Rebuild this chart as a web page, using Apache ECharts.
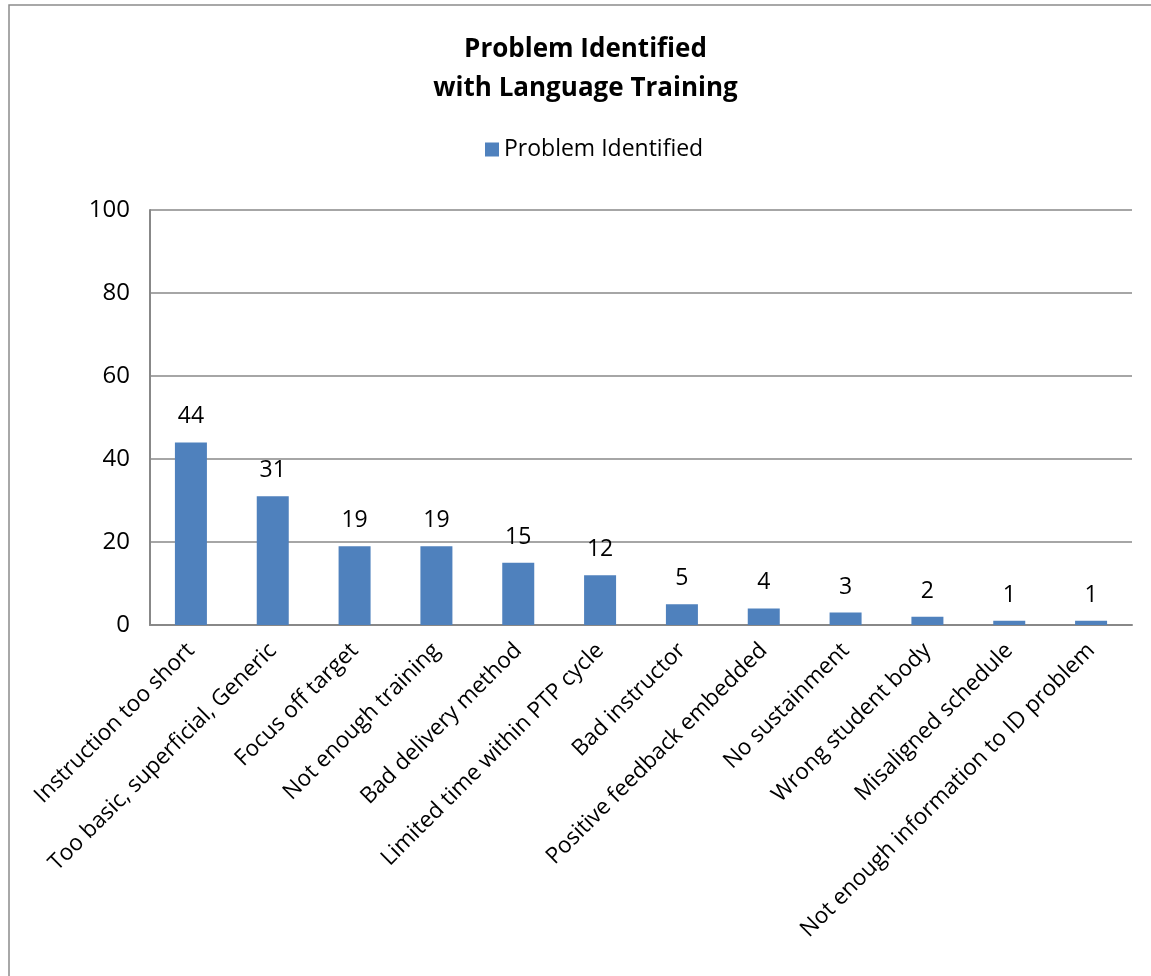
<!DOCTYPE html>
<html><head><meta charset="utf-8">
<script src="https://cdn.jsdelivr.net/npm/echarts@6/dist/echarts.min.js"></script>
<style>html,body{margin:0;padding:0;background:#fff;overflow:hidden;}#c{width:1171px;height:976px;}</style>
</head><body><div id="c"></div>
<script>
const categories = ["Instruction too short","Too basic, superficial, Generic","Focus off target","Not enough training","Bad delivery method","Limited time within PTP cycle","Bad instructor","Positive feedback embedded","No sustainment","Wrong student body","Misaligned schedule","Not enough information to ID problem"];
const values = [44,31,19,19,15,12,5,4,3,2,1,1];
const seriesName = "Problem Identified";
const titleText = "Problem Identified\nwith Language Training";
const yTicks = {min:0,max:100,interval:20};
const font = "'Open Sans', sans-serif";
const chart = echarts.init(document.getElementById('c'));
chart.setOption({
  animation:false,
  graphic:[{type:'rect',shape:{x:9,y:5,width:1200,height:1100},style:{fill:'none',stroke:'#8c8c8c',lineWidth:1.5},silent:true}],
  title:{text:titleText,left:'center',top:25,textStyle:{fontFamily:font,fontWeight:'bold',fontSize:26,color:'#000',lineHeight:39}},
  legend:{data:[seriesName],top:133,left:480,itemWidth:14,itemHeight:14,itemGap:6,icon:'rect',textStyle:{fontFamily:font,fontSize:23,color:'#000'}},
  grid:{left:150,right:39,top:210,bottom:351,containLabel:false},
  xAxis:{type:'category',data:categories,axisLine:{lineStyle:{color:'#888',width:2}},axisTick:{show:false},
    axisLabel:{rotate:45,interval:0,fontFamily:font,fontSize:22.5,color:'#000',margin:22}},
  yAxis:{type:'value',min:yTicks.min,max:yTicks.max,interval:yTicks.interval,
    axisLine:{show:true,lineStyle:{color:'#888',width:2}},axisTick:{show:false},
    splitLine:{lineStyle:{color:'#888',width:1.5}},
    axisLabel:{fontFamily:font,fontSize:24,color:'#000',margin:20}},
  series:[{name:seriesName,type:'bar',data:values,barWidth:32,itemStyle:{color:'#4F81BD'},
    label:{show:true,position:'top',distance:14,fontFamily:font,fontSize:23,color:'#000'}}]
});
</script></body></html>
